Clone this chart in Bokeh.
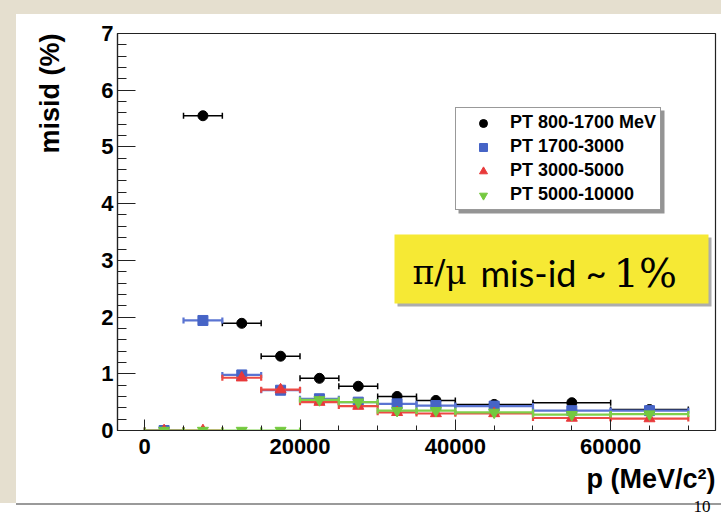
import numpy as np
from bokeh.plotting import figure
from bokeh.models import (FixedTicker, Label, BoxAnnotation, Legend, LegendItem,
                          Range1d, ColumnDataSource, Title)
from bokeh.embed import file_html
from bokeh.resources import INLINE

# ---------------- data ----------------
p_center = [2500, 7500, 12500, 17500, 22500, 27500, 32500, 37500, 45000, 55000, 65000]
p_halfwidth = [2500, 2500, 2500, 2500, 2500, 2500, 2500, 2500, 5000, 5000, 5000]

misid_pt_800_1700 = [np.nan, 5.55, 1.89, 1.31, 0.92, 0.78, 0.60, 0.53, 0.46, 0.49, 0.37]
misid_pt_1700_3000 = [0.0, 1.94, 0.98, 0.71, 0.56, 0.50, 0.47, 0.44, 0.43, 0.35, 0.35]
misid_pt_3000_5000 = [0.0, 0.0, 0.93, 0.72, 0.50, 0.43, 0.32, 0.30, 0.30, 0.22, 0.21]
misid_pt_5000_10000 = [0.0, 0.0, 0.0, 0.0, 0.54, 0.50, 0.35, 0.35, 0.32, 0.28, 0.29]

series_names = ["PT 800-1700 MeV", "PT 1700-3000", "PT 3000-5000", "PT 5000-10000"]

x_tick_values = [0, 20000, 40000, 60000]
y_tick_values = [0, 1, 2, 3, 4, 5, 6, 7]

FONT = "Liberation Sans"
BEIGE = "#e5dfcf"

# ---------------- figure ----------------
p = figure(width=721, height=519, output_backend="svg", toolbar_location=None,
           x_range=Range1d(-3500, 73500), y_range=Range1d(0, 7),
           min_border_left=117, min_border_right=6, min_border_top=33, min_border_bottom=89)
p.xgrid.visible = False
p.ygrid.visible = False
p.background_fill_color = "white"
p.border_fill_alpha = 0
p.outline_line_color = "#222222"
p.outline_line_width = 1.2
# slide frame behind the (transparent) border area
p.styles = {
    "background": (f"linear-gradient({BEIGE},{BEIGE}) 0 0 / 100% 14px no-repeat, "
                   f"linear-gradient({BEIGE},{BEIGE}) 0 0 / 16px 503px no-repeat, "
                   "linear-gradient(#9a9a9a,#9a9a9a) 16px 503px / 100% 2px no-repeat, white")
}

p.xaxis.ticker = FixedTicker(ticks=x_tick_values, minor_ticks=list(range(0, 70001, 5000)))
p.yaxis.ticker = FixedTicker(ticks=y_tick_values, minor_ticks=list(np.round(np.arange(0, 7.01, 0.2), 2)))
for ax in (p.xaxis[0], p.yaxis[0]):
    ax.axis_line_color = "#222222"
    ax.axis_line_width = 1.2
    ax.major_tick_line_color = "#222222"
    ax.minor_tick_line_color = "#222222"
    ax.major_tick_out = 0
    ax.minor_tick_out = 0
    ax.major_label_text_font = FONT
    ax.major_label_text_font_style = "bold"
    ax.major_label_text_font_size = "22px"
    ax.major_label_text_color = "black"
p.xaxis.major_tick_in = 11
p.xaxis.minor_tick_in = 5
p.yaxis.major_tick_in = 18
p.yaxis.minor_tick_in = 9
p.xaxis.major_label_standoff = 8
p.yaxis.major_label_standoff = 4

# axis titles (ROOT style, at the axis ends)
p.add_layout(Title(text="misid (%)", align="right", vertical_align="top", standoff=63,
                   text_font=FONT, text_font_style="bold", text_font_size="27px",
                   text_color="black"), "left")
p.add_layout(Title(text="p (MeV/c²)", align="right", standoff=10,
                   text_font=FONT, text_font_style="bold", text_font_size="27px",
                   text_color="black"), "below")
# slide page number
p.add_layout(Title(text="10", align="right", offset=5, standoff=0,
                   text_font="Liberation Serif", text_font_style="normal",
                   text_font_size="17px", text_color="black"), "below")

# ---------------- series ----------------
styles = [
    ("black", "black", "circle", 10, 1.5),
    ("#4664c6", "#5a74d2", "square", 10, 2.2),
    ("#e8393a", "#ec4a44", "triangle", 11, 2.2),
    ("#74c93f", "#7fcf4a", "inverted_triangle", 11, 2.2),
]
all_series = [misid_pt_800_1700, misid_pt_1700_3000, misid_pt_3000_5000, misid_pt_5000_10000]

items = []
for name, vals, (mcol, lcol, marker, size, lw) in zip(series_names, all_series, styles):
    lo = [c - h for c, h in zip(p_center, p_halfwidth)]
    hi = [c + h for c, h in zip(p_center, p_halfwidth)]
    src = ColumnDataSource(dict(x=p_center, y=vals, lo=lo, hi=hi))
    p.segment(x0="lo", y0="y", x1="hi", y1="y", source=src, line_color=lcol, line_width=lw)
    p.scatter(x="lo", y="y", source=src, marker="dash", angle=np.pi / 2, size=6,
              line_color=lcol, line_width=lw)
    p.scatter(x="hi", y="y", source=src, marker="dash", angle=np.pi / 2, size=6,
              line_color=lcol, line_width=lw)
    r = p.scatter(x="x", y="y", source=src, marker=marker, size=size,
                  fill_color=mcol, line_color=mcol)
    items.append(LegendItem(label=name, renderers=[r]))

# legend shadow
p.add_layout(BoxAnnotation(left=458, right=664, top=110, bottom=213, left_units="canvas",
                           right_units="canvas", top_units="canvas", bottom_units="canvas",
                           fill_color="#666666", fill_alpha=0.7, line_alpha=0))
legend = Legend(items=items, location=(338, 220))
legend.label_text_font = FONT
legend.label_text_font_style = "bold"
legend.label_text_font_size = "18px"
legend.label_text_color = "black"
legend.glyph_width = 46
legend.glyph_height = 20
legend.label_height = 20
legend.label_standoff = 4
legend.spacing = 3
legend.padding = 4
legend.margin = 0
legend.border_line_color = "#333333"
legend.border_line_width = 1.2
legend.background_fill_color = "white"
legend.background_fill_alpha = 1
p.add_layout(legend)

# yellow call-out box with shadow
p.add_layout(BoxAnnotation(left=397, right=711, top=237, bottom=306, left_units="canvas",
                           right_units="canvas", top_units="canvas", bottom_units="canvas",
                           fill_color="#777777", fill_alpha=0.6, line_alpha=0))
p.add_layout(BoxAnnotation(left=394, right=708, top=234, bottom=303, left_units="canvas",
                           right_units="canvas", top_units="canvas", bottom_units="canvas",
                           fill_color="#f6e934", fill_alpha=1, line_alpha=0))
p.add_layout(Label(x=295, y=158, x_units="screen", y_units="screen", text="π/μ",
                   text_font="DejaVu Serif", text_font_size="33px", text_color="black",
                   text_baseline="alphabetic"))
p.add_layout(Label(x=363, y=158, x_units="screen", y_units="screen", text="mis-id ~",
                   text_font="Lato", text_font_size="36px", text_color="black",
                   text_baseline="alphabetic"))
p.add_layout(Label(x=496, y=158, x_units="screen", y_units="screen", text="1%",
                   text_font="DejaVu Serif", text_font_size="40px", text_color="black",
                   text_baseline="alphabetic"))

open("out.html", "w").write(file_html(p, INLINE))
